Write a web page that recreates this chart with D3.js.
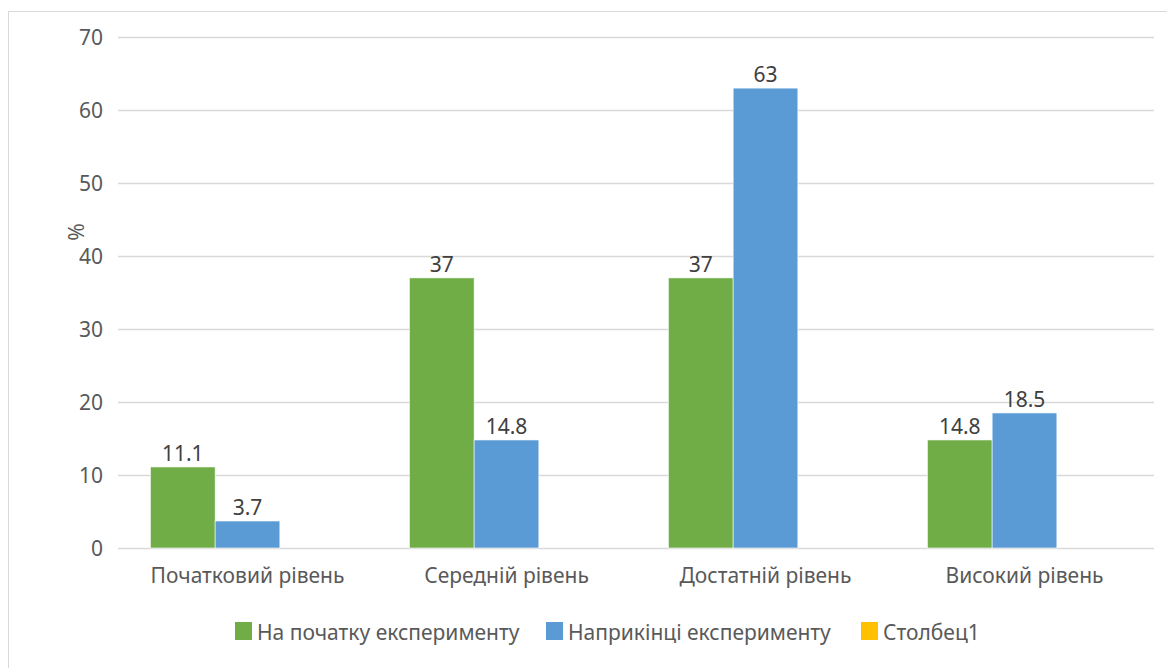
<!DOCTYPE html>
<html>
<head>
<meta charset="utf-8">
<script src="https://cdn.jsdelivr.net/npm/d3@7"></script>
<style>
  html, body { margin: 0; padding: 0; background: #fff; }
  svg { display: block; font-family: "Noto Sans", "Open Sans", sans-serif; }
</style>
</head>
<body>
<div id="chart"></div>
<script>
// Grouped bar chart: levels at start / end of experiment (%)
const categories = ['Початковий рівень', 'Середній рівень', 'Достатній рівень', 'Високий рівень'];
const seriesNames = ['На початку експерименту', 'Наприкінці експерименту', 'Столбец1'];
const startValues = [11.1, 37, 37, 14.8];
const endValues = [3.7, 14.8, 63, 18.5];
const col1Values = [null, null, null, null];
const yTicks = [0, 10, 20, 30, 40, 50, 60, 70];

const colors = ['#70AD47', '#5B9BD5', '#FFC000'];
const seriesValues = [startValues, endValues, col1Values];

const W = 1167, H = 668;
const plot = {left: 118, right: 1154, top: 37, bottom: 548};
const fontSize = 21;

const svg = d3.select('#chart')
  .append('svg')
  .attr('width', W)
  .attr('height', H);

// Outer chart border
svg.append('rect')
  .attr('x', 8.5)
  .attr('y', 11.5)
  .attr('width', W)
  .attr('height', H)
  .attr('fill', '#fff')
  .attr('stroke', '#d9d9d9');

const x0 = d3.scaleBand()
  .domain(categories)
  .range([plot.left, plot.right])
  .paddingInner(0.25)
  .paddingOuter(0.125);

const x1 = d3.scaleBand()
  .domain(seriesNames)
  .range([0, x0.bandwidth()]);

const y = d3.scaleLinear()
  .domain([0, 70])
  .range([plot.bottom, plot.top]);

// Grid lines
svg.append('g')
  .attr('class', 'grid')
  .attr('transform', `translate(${plot.left},0)`)
  .call(d3.axisLeft(y).tickValues(yTicks).tickSize(-(plot.right - plot.left)).tickFormat(''))
  .call(g => g.select('.domain').remove())
  .selectAll('line')
  .attr('stroke', '#d9d9d9')
  .attr('stroke-width', 1.3);

// Y axis labels
svg.append('g')
  .attr('transform', `translate(${plot.left - 12},0)`)
  .call(d3.axisLeft(y).tickValues(yTicks).tickSize(0))
  .call(g => g.select('.domain').remove())
  .selectAll('text')
  .attr('fill', '#595959')
  .attr('dy', '0.36em')
  .style('font-size', fontSize + 'px')
  .attr('font-family', '"Noto Sans", sans-serif');

// X axis labels
svg.append('g')
  .attr('transform', `translate(0,${plot.bottom})`)
  .call(d3.axisBottom(x0).tickSize(0))
  .call(g => g.select('.domain').remove())
  .selectAll('text')
  .attr('y', 35)
  .attr('dy', null)
  .attr('fill', '#595959')
  .style('font-size', fontSize + 'px')
  .attr('font-family', '"Noto Sans", sans-serif');

// Y axis title
svg.append('text')
  .attr('transform', 'translate(84, 232) rotate(-90)')
  .attr('text-anchor', 'middle')
  .attr('fill', '#595959')
  .attr('font-size', fontSize + 'px')
  .text('%');

// Bars
const rows = [];
categories.forEach((c, i) => {
  seriesNames.forEach((s, j) => {
    rows.push({cat: c, series: s, value: seriesValues[j][i], color: colors[j]});
  });
});

const bars = rows.filter(d => d.value != null);

svg.append('g')
  .selectAll('rect')
  .data(bars)
  .enter()
  .append('rect')
  .attr('x', d => x0(d.cat) + x1(d.series))
  .attr('y', d => y(d.value))
  .attr('width', x1.bandwidth())
  .attr('height', d => y(0) - y(d.value))
  .attr('fill', d => d.color)
  .attr('stroke', '#fff')
  .attr('stroke-width', 0.6);

// Data labels
svg.append('g')
  .selectAll('text')
  .data(bars)
  .enter()
  .append('text')
  .attr('x', d => x0(d.cat) + x1(d.series) + x1.bandwidth() / 2)
  .attr('y', d => y(d.value) - 6)
  .attr('text-anchor', 'middle')
  .attr('fill', '#404040')
  .attr('font-size', '21px')
  .text(d => d.value);

// Legend
const legendItems = [
  {name: seriesNames[0], color: colors[0], x: 235},
  {name: seriesNames[1], color: colors[1], x: 546},
  {name: seriesNames[2], color: colors[2], x: 861}
];
const legend = svg.append('g').attr('transform', 'translate(0,622)');
legendItems.forEach(it => {
  legend.append('rect')
    .attr('x', it.x)
    .attr('y', 0)
    .attr('width', 17)
    .attr('height', 18)
    .attr('fill', it.color);
  legend.append('text')
    .attr('x', it.x + 22)
    .attr('y', 18)
    .attr('fill', '#595959')
    .attr('font-size', fontSize + 'px')
    .text(it.name);
});
</script>
</body>
</html>
